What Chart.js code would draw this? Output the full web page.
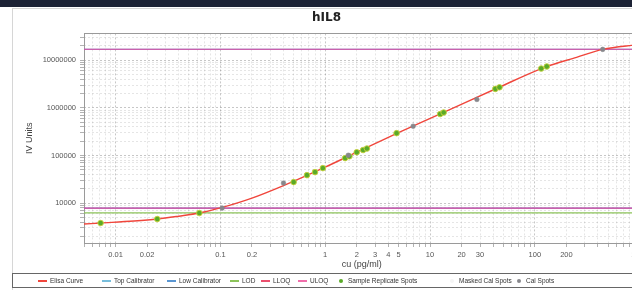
<!DOCTYPE html>
<html><head><meta charset="utf-8">
<script src="https://cdn.jsdelivr.net/npm/chart.js@4.4.1/dist/chart.umd.min.js"></script>
<style>
html,body{margin:0;padding:0;width:632px;height:290px;overflow:hidden;background:#fff;font-family:"Liberation Sans",Arial,sans-serif;}
#band{position:absolute;left:0;top:0;width:632px;height:7px;background:#1c2235;}
#panel{position:absolute;left:12px;top:8px;width:700px;height:290px;border:1px solid #d6d6d6;box-sizing:border-box;}
#wrap{position:absolute;left:0;top:0;width:651px;height:290px;}
#legend{position:absolute;left:12px;top:273px;width:700px;height:15px;border:1px solid #666;box-sizing:border-box;font-size:6.5px;color:#333;}
#legend .it{position:absolute;top:3px;white-space:nowrap;line-height:8px;height:8px;}
#legend .mk{position:absolute;left:0;}
#legend .tx{position:absolute;top:0;}
</style></head>
<body>
<div id="band"></div>
<div id="panel"></div>
<div id="wrap"><canvas id="c" width="651" height="290"></canvas></div>
<div id="legend"></div>
<script>
// ---- data ----
const curveX = [0.005, 0.0072, 0.015, 0.025, 0.04, 0.063, 0.1, 0.2, 0.4, 1, 2, 5, 13, 43.5, 124, 250, 444, 840, 1000];
const curveY = [3630, 3810, 4200, 4620, 5300, 6170, 7900, 12700, 23300, 56900, 117000, 300000, 771000, 2580000, 7100000, 11500000, 16900000, 20500000, 21200000];
const sampleX = [0.0072, 0.025, 0.063, 0.50, 0.67, 0.80, 0.95, 1.55, 1.7, 2.0, 2.3, 2.5, 4.8, 12.5, 13.5, 42, 46, 115, 130];
const sampleY = [3810, 4620, 6170, 27600, 38600, 44700, 54200, 88000, 96000, 117000, 130000, 140000, 294000, 740000, 800000, 2500000, 2700000, 6700000, 7400000];
const calX = [0.104, 0.40, 1.66, 6.9, 28, 444];
const calY = [7850, 26300, 101000, 411000, 1500000, 16900000];
const maskedX = [];
const maskedY = [];
const topCalibrator = 17000000;
const lowCalibrator = 7850;
const lodLevel = 6200;
const lloqLevel = 7850;
const uloqLevel = 17000000;
const xTickLabels = [0.01, 0.02, 0.1, 0.2, 1, 2, 3, 4, 5, 10, 20, 30, 100, 200, 1000];
const yTickLabels = [10000, 100000, 1000000, 10000000];
const xMin = 0.005, xMax = 1000, yMin = 1450, yMax = 36600000;

const pts = (xs, ys) => xs.map((x, i) => ({x: x, y: ys[i]}));
const hline = (v) => [{x: xMin, y: v}, {x: xMax, y: v}];

function gridTicks(min, max) {
  const t = [];
  for (let e = Math.floor(Math.log10(min)); e <= Math.ceil(Math.log10(max)); e++) {
    for (let m = 1; m <= 9; m++) {
      const v = +(m * Math.pow(10, e)).toPrecision(6);
      if (v >= min * 0.9999 && v <= max * 1.0001) t.push({value: v});
    }
  }
  return t;
}
const inList = (v, list) => list.some(l => Math.abs(l - v) / l < 1e-6);
const isDecade = (v) => v && Math.abs(Math.log10(v) - Math.round(Math.log10(v))) < 1e-9;

const datasets = [
  {label: 'Elisa Curve', data: pts(curveX, curveY), type: 'line', borderColor: 'rgb(240,70,60)', borderWidth: 1.4, pointRadius: 0, cubicInterpolationMode: 'monotone', order: 5},
  {label: 'Top Calibrator', data: hline(topCalibrator), type: 'line', borderColor: 'rgb(90,150,210)', borderWidth: 1.2, pointRadius: 0, order: 9},
  {label: 'Low Calibrator', data: hline(lowCalibrator), type: 'line', borderColor: 'rgb(90,150,210)', borderWidth: 1.2, pointRadius: 0, order: 9},
  {label: 'LOD', data: hline(lodLevel), type: 'line', borderColor: 'rgb(140,195,90)', borderWidth: 1.2, pointRadius: 0, order: 8},
  {label: 'LLOQ', data: hline(lloqLevel), type: 'line', borderColor: 'rgba(235,60,150,0.9)', borderWidth: 1.2, pointRadius: 0, order: 7},
  {label: 'ULOQ', data: hline(uloqLevel), type: 'line', borderColor: 'rgba(235,60,150,0.9)', borderWidth: 1.2, pointRadius: 0, order: 7},
  {label: 'Sample Replicate Spots', data: pts(sampleX, sampleY), type: 'scatter', backgroundColor: 'rgb(90,170,40)', borderColor: 'rgba(200,210,60,0.9)', borderWidth: 1, pointRadius: 2.8, order: 2},
  {label: 'Masked Cal Spots', data: pts(maskedX, maskedY), type: 'scatter', backgroundColor: 'rgb(230,230,230)', pointRadius: 2.5, order: 3},
  {label: 'Cal Spots', data: pts(calX, calY), type: 'scatter', backgroundColor: 'rgb(135,135,140)', borderColor: 'rgba(135,135,140,0.6)', borderWidth: 1, pointRadius: 2.3, order: 1}
];

const framePlugin = {
  id: 'frame',
  beforeDatasetsDraw(chart) {
    const {ctx, chartArea: a} = chart;
    ctx.save();
    ctx.strokeStyle = '#9a9a9a';
    ctx.lineWidth = 1;
    ctx.strokeRect(Math.round(a.left) + 0.5, Math.round(a.top) + 0.5, Math.round(a.right - a.left), Math.round(a.bottom - a.top));
    ctx.restore();
  }
};

const tickFont = {family: '"Liberation Sans", Arial, sans-serif', size: 7.5};
const gridCommon = {
  color: (c) => isDecade(c.tick && c.tick.value) ? 'rgba(0,0,0,0.22)' : 'rgba(0,0,0,0.10)',
  borderDash: [2, 2],
  drawTicks: true, tickLength: 4, tickColor: 'rgba(0,0,0,0.3)', tickBorderDash: []
};

const chart = new Chart(document.getElementById('c'), {
  type: 'scatter',
  data: {datasets: datasets},
  options: {
    responsive: false, animation: false,
    layout: {padding: {left: 12, right: 10, top: 0, bottom: 18}},
    plugins: {
      legend: {display: false},
      tooltip: {enabled: false},
      title: {display: true, text: 'hIL8', color: '#222', font: {family: '"DejaVu Sans", sans-serif', size: 12, weight: 'bold'}, padding: {top: 11, bottom: 8}}
    },
    scales: {
      x: {
        type: 'logarithmic', min: xMin, max: xMax,
        afterBuildTicks: (s) => { s.ticks = gridTicks(s.min, s.max); },
        afterFit: (s) => { s.height = 29; },
        ticks: {autoSkip: false, maxRotation: 0, padding: 3, color: '#555', font: tickFont,
          callback: (v) => inList(v, xTickLabels) ? String(+v.toPrecision(6)) : ''},
        grid: gridCommon,
        border: {display: false, dash: [2, 2]},
        title: {display: true, text: 'cu (pg/ml)', color: '#444', font: {family: '"Liberation Sans", Arial, sans-serif', size: 9}, padding: {top: 2, bottom: 2}}
      },
      y: {
        type: 'logarithmic', min: yMin, max: yMax,
        afterBuildTicks: (s) => { s.ticks = gridTicks(s.min, s.max); },
        afterFit: (s) => { s.width = 72; },
        ticks: {autoSkip: false, padding: 4, color: '#555', font: tickFont,
          callback: (v) => inList(v, yTickLabels) ? String(v) : ''},
        grid: gridCommon,
        border: {display: false, dash: [2, 2]},
        title: {display: true, text: 'IV Units', color: '#444', font: {family: '"Liberation Sans", Arial, sans-serif', size: 9}, padding: {top: 12, bottom: 0}}
      }
    }
  },
  plugins: [framePlugin]
});

// HTML legend built from the datasets
const legendLeft = [25, 89, 154, 217, 248, 285, 323, 434, 501];
const legendMarker = ['rgb(240,70,60)', 'rgb(120,190,220)', 'rgb(90,150,210)', 'rgb(140,195,90)', 'rgb(235,80,110)', 'rgb(240,110,170)', 'rgb(90,170,40)', 'rgb(245,245,245)', 'rgb(135,135,140)'];
const leg = document.getElementById('legend');
datasets.forEach((d, i) => {
  const it = document.createElement('span');
  it.className = 'it';
  it.style.left = legendLeft[i] + 'px';
  const mk = document.createElement('span');
  mk.className = 'mk';
  if (d.type === 'line') {
    mk.style.width = '9px'; mk.style.height = '2px'; mk.style.top = '3px';
  } else {
    mk.style.width = '4px'; mk.style.height = '4px'; mk.style.top = '2px'; mk.style.left = '3px'; mk.style.borderRadius = '50%';
  }
  mk.style.background = legendMarker[i];
  const tx = document.createElement('span');
  tx.className = 'tx';
  tx.style.left = '12px';
  tx.textContent = d.label;
  it.appendChild(mk);
  it.appendChild(tx);
  leg.appendChild(it);
});
</script>
</body></html>
